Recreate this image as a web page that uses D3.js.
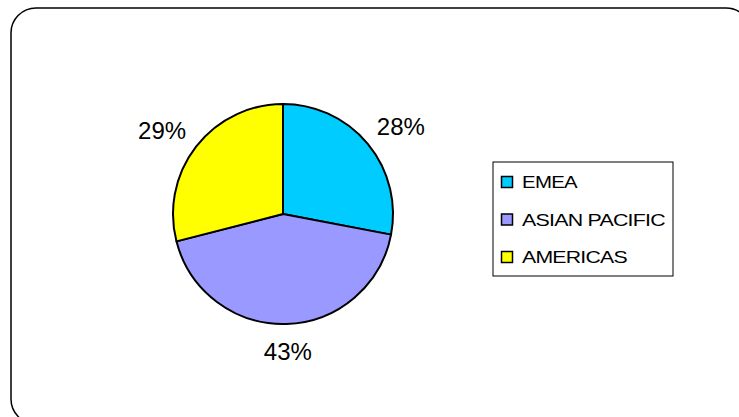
<!DOCTYPE html>
<html>
<head>
<meta charset="utf-8">
<script src="https://cdn.jsdelivr.net/npm/d3@7"></script>
<style>
  body { margin: 0; background: #fff; }
  svg { display: block; font-family: "Liberation Sans", Arial, sans-serif; }
</style>
</head>
<body>
<div class="chart"></div>
<script>
// regions, shares (percent) and slice colours
const regions = ['EMEA', 'ASIAN PACIFIC', 'AMERICAS'];
const shares = [28, 43, 29];
const colors = ['#00CCFF', '#9999FF', '#FFFF00'];
// widths the legend text is stretched to
const legendTextWidths = [55, 143, 105];

const fullWidth = 739;
const fullHeight = 417;
const cx = 283;
const cy = 214;
const radius = 110;

let svg = d3.select('.chart')
  .append('svg')
  .attr('width', fullWidth)
  .attr('height', fullHeight);

// rounded frame, runs off the right and bottom edges
svg.append('rect')
  .attr('x', 11)
  .attr('y', 8)
  .attr('width', 740)
  .attr('height', 416)
  .attr('rx', 25)
  .attr('ry', 25)
  .style('fill', 'white')
  .style('stroke', 'black')
  .style('stroke-width', 1.5);

let pieData = d3.pie()
  .sort(null)
  .value(d => d.value)(regions.map((r, i) => ({ name: r, value: shares[i], color: colors[i] })));

let arc = d3.arc().innerRadius(0).outerRadius(radius);
let labelArc = d3.arc().innerRadius(128).outerRadius(128);

let g = svg.append('g')
  .attr('transform', `translate(${cx}, ${cy})`);

g.selectAll('.slice')
  .data(pieData)
  .enter()
  .append('path')
  .attr('class', 'slice')
  .attr('d', arc)
  .style('fill', d => d.data.color)
  .style('stroke', 'black')
  .style('stroke-width', 2)
  .style('stroke-linejoin', 'round');

// percent labels, pushed out so the text box sits outside the pie
g.selectAll('.pct')
  .data(pieData)
  .enter()
  .append('text')
  .attr('class', 'pct')
  .attr('transform', d => {
    let c = labelArc.centroid(d);
    let a = (d.startAngle + d.endAngle) / 2;
    let x = c[0] + 25 * Math.sin(a);
    let y = c[1] - 9 * Math.cos(a);
    return `translate(${x}, ${y})`;
  })
  .attr('text-anchor', 'middle')
  .attr('dy', '0.36em')
  .style('font-size', '24px')
  .style('fill', 'black')
  .text(d => Math.round(d.data.value) + '%');

// legend
let legend = svg.append('g')
  .attr('transform', 'translate(493, 162)');

legend.append('rect')
  .attr('width', 180)
  .attr('height', 114)
  .style('fill', 'white')
  .style('stroke', 'black')
  .style('stroke-width', 1);

let itemY = d3.scalePoint()
  .domain(regions)
  .range([20, 95]);

let items = legend.selectAll('.item')
  .data(regions)
  .enter()
  .append('g')
  .attr('class', 'item')
  .attr('transform', d => `translate(0, ${itemY(d)})`);

items.append('rect')
  .attr('x', 8.5)
  .attr('y', -5.5)
  .attr('width', 11)
  .attr('height', 11)
  .style('fill', (d, i) => colors[i])
  .style('stroke', 'black')
  .style('stroke-width', 1.5);

// text is drawn then widened sideways, the glyphs in the original are stretched
items.append('text')
  .attr('y', 6)
  .style('font-size', '17px')
  .style('letter-spacing', '-0.6px')
  .style('fill', 'black')
  .text(d => d)
  .attr('transform', function(d, i) {
    let w = this.getComputedTextLength();
    let sx = legendTextWidths[i] / w;
    return `translate(29, 0) scale(${sx}, 1)`;
  });
</script>
</body>
</html>
